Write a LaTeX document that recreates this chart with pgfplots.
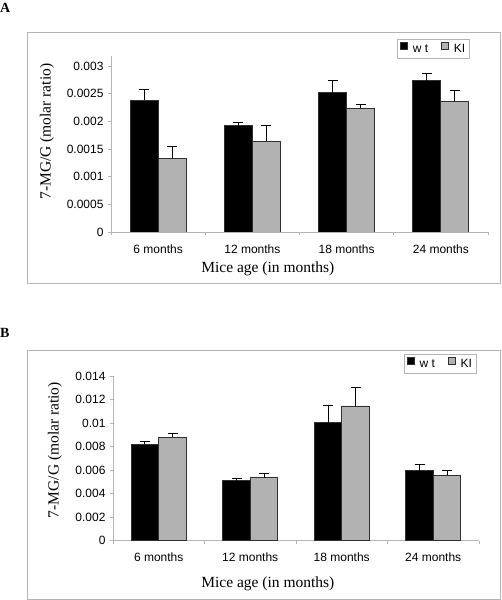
\documentclass[border=0pt]{standalone}
\usepackage{fontspec}
\setmainfont{Liberation Serif}
\newfontfamily\arial{Liberation Sans}
\usepackage{pgfplots}
\usepackage{pgfplotstable}
\pgfplotsset{compat=1.18}
\definecolor{axgray}{HTML}{B4B4B4}
\definecolor{kigray}{HTML}{B2B2B2}
\definecolor{edge}{HTML}{303030}

\pgfplotstableread{
x y e
0 0.00238 0.00020
1 0.00192 0.00006
2 0.00252 0.00021
3 0.00273 0.00014
}\Awt
\pgfplotstableread{
x y e
0 0.00133 0.00022
1 0.00164 0.00028
2 0.00224 0.00007
3 0.00236 0.00020
}\Aki
\pgfplotstableread{
x y e
0 0.00819 0.00020
1 0.00510 0.00017
2 0.01003 0.00145
3 0.00595 0.00051
}\Bwt
\pgfplotstableread{
x y e
0 0.00879 0.00036
1 0.00536 0.00031
2 0.01145 0.00159
3 0.00556 0.00039
}\Bki

\pgfplotsset{
  panel/.style={
    scale only axis,
    axis x line*=bottom, axis y line*=left,
    axis line style={draw=axgray, line width=0.7pt, -},
    xmin=-0.5, xmax=3.5, ymin=0,
    xtick={-0.5,0.5,1.5,2.5,3.5},
    xticklabels={},
    extra x ticks={0,1,2,3},
    extra x tick labels={6 months,12 months,18 months,24 months},
    extra x tick style={major tick length=0pt, xticklabel style={yshift=-9pt}},
    tick style={draw=axgray, line width=0.7pt},
    major tick length=3pt, tick align=outside,
    scaled y ticks=false,
    /pgf/number format/assume math mode=true,
    ticklabel style={font=\arial\fontsize{12}{14}\selectfont},
    yticklabel style={xshift=-1pt},
    xlabel={Mice age (in months)},
    ylabel={7-MG/G (molar ratio)},
    ybar=0pt,
    legend columns=2,
    legend style={draw=axgray, line width=0.6pt, font=\arial\fontsize{12}{14}\selectfont,
      inner sep=2.5pt,
      /tikz/every odd column/.append style={column sep=3pt},
      /tikz/every even column/.append style={column sep=11pt}},
    legend image code/.code={\draw[##1,/tikz/.cd,line width=0.6pt] (0pt,0pt) rectangle (7pt,7pt);},
    err/.style={error bars/.cd, y dir=plus, y explicit,
      error mark=|,
      error bar style={black, line width=1pt},
      error mark options={black, line width=1pt, mark size=5pt}},
  }
}

\begin{document}
\begin{tikzpicture}
\useasboundingbox (0,0) rectangle (501pt,600pt);
\draw[axgray, line width=0.7pt] (27pt,568pt) rectangle (500pt,317pt);
\draw[axgray, line width=0.7pt] (27pt,250pt) rectangle (500pt,1pt);
\node[anchor=west, inner sep=0pt, font=\bfseries\fontsize{14}{16}\selectfont] at (0pt,592pt) {A};
\node[anchor=west, inner sep=0pt, font=\bfseries\fontsize{14}{16}\selectfont] at (0pt,267pt) {B};

% Panel A
\begin{axis}[panel,
  at={(111pt,368pt)}, anchor=south west,
  width=377pt, height=176pt,
  ymax=0.00318,
  bar width=28pt,
  ytick={0,0.0005,0.001,0.0015,0.002,0.0025,0.003},
  yticklabels={0,0.0005,0.001,0.0015,0.002,0.0025,0.003},
  every axis y label/.style={at={(axis description cs:-0.170,0.57)}, rotate=90, anchor=center, font=\fontsize{15.5}{17}\selectfont},
  every axis x label/.style={at={(axis description cs:0.416,-0.21)}, anchor=center, font=\fontsize{15.5}{17}\selectfont},
  legend style={at={(axis description cs:0.952,1.097)}, anchor=north east},
]
\addplot[fill=black, draw=edge, line width=0.8pt, err] table[x=x, y=y, y error=e] {\Awt};
\addplot[fill=kigray, draw=edge, line width=0.8pt, err] table[x=x, y=y, y error=e] {\Aki};
\legend{w t, KI}
\end{axis}

% Panel B
\begin{axis}[panel,
  at={(113pt,59.3pt)}, anchor=south west,
  width=366pt, height=164.7pt,
  ymax=0.014,
  bar width=27.5pt,
  ytick={0,0.002,0.004,0.006,0.008,0.01,0.012,0.014},
  yticklabels={0,0.002,0.004,0.006,0.008,0.01,0.012,0.014},
  every axis y label/.style={at={(axis description cs:-0.159,0.55)}, rotate=90, anchor=center, font=\fontsize{15.5}{17}\selectfont},
  every axis x label/.style={at={(axis description cs:0.423,-0.263)}, anchor=center, font=\fontsize{15.5}{17}\selectfont},
  legend style={at={(axis description cs:0.994,1.134)}, anchor=north east},
]
\addplot[fill=black, draw=edge, line width=0.8pt, err] table[x=x, y=y, y error=e] {\Bwt};
\addplot[fill=kigray, draw=edge, line width=0.8pt, err] table[x=x, y=y, y error=e] {\Bki};
\legend{w t, KI}
\end{axis}
\end{tikzpicture}
\end{document}
